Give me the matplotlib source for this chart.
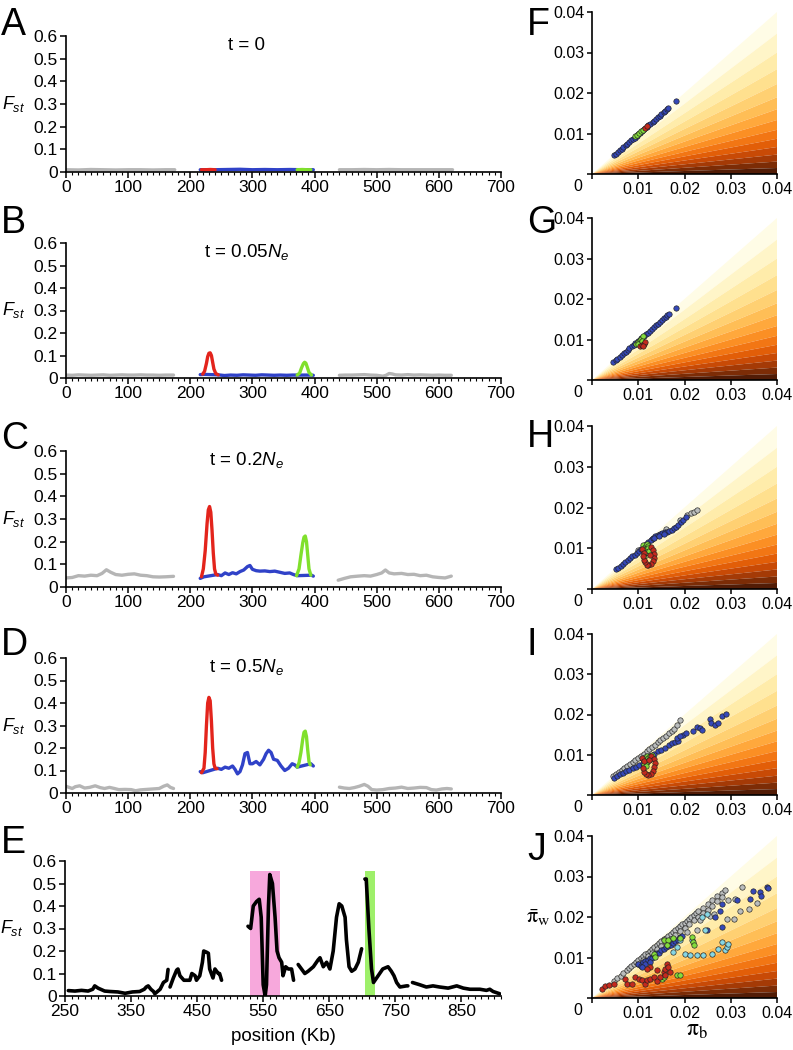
import matplotlib
matplotlib.use('Agg')
import matplotlib.pyplot as plt
import numpy as np

nan = np.nan

plt.rcParams['font.family'] = ['Liberation Sans', 'DejaVu Sans']
plt.rcParams['mathtext.fontset'] = 'custom'
plt.rcParams['mathtext.rm'] = 'Liberation Sans'
plt.rcParams['mathtext.it'] = 'Liberation Sans:italic'
plt.rcParams['axes.linewidth'] = 1.2

# ---------------- Fst traces (position in Kb, Fst) ----------------
# panel A, t = 0
a_gray_pos = [0, 20, 40, 60, 80, 100, 120, 140, 160, 175, nan,
              440, 460, 480, 500, 520, 540, 560, 580, 600, 622]
a_gray_fst = [0.010, 0.009, 0.011, 0.010, 0.009, 0.010, 0.010, 0.009, 0.010, 0.010, nan,
              0.010, 0.010, 0.011, 0.010, 0.011, 0.010, 0.010, 0.010, 0.010, 0.010]
a_blue_pos = [216, 240, 260, 280, 300, 320, 340, 360, 380, 398]
a_blue_fst = [0.010, 0.010, 0.011, 0.012, 0.010, 0.011, 0.010, 0.011, 0.010, 0.010]
a_red_pos = [218, 225, 232, 240]
a_red_fst = [0.010, 0.010, 0.011, 0.010]
a_green_pos = [372, 380, 388, 394]
a_green_fst = [0.010, 0.011, 0.010, 0.010]

# panel B, t = 0.05 Ne
b_gray_pos = [0, 10, 20, 30, 40, 50, 60, 70, 80, 90, 100, 110, 120, 130, 140, 150, 160, 173, nan,
              440, 450, 460, 470, 480, 490, 500, 510, 515, 520, 525, 530, 540, 550, 560, 570,
              580, 590, 600, 610, 620]
b_gray_fst = [0.013, 0.012, 0.014, 0.013, 0.012, 0.013, 0.014, 0.012, 0.013, 0.014, 0.013, 0.013,
              0.014, 0.013, 0.013, 0.012, 0.013, 0.013, nan,
              0.012, 0.013, 0.013, 0.014, 0.015, 0.013, 0.012, 0.008, 0.012, 0.020, 0.018, 0.014,
              0.013, 0.015, 0.013, 0.014, 0.013, 0.012, 0.013, 0.012, 0.012]
b_blue_pos = [216, 222, 245, 255, 265, 275, 285, 295, 305, 315, 325, 335, 345, 355, 365, 372, 395, 398]
b_blue_fst = [0.015, 0.016, 0.014, 0.011, 0.013, 0.012, 0.014, 0.013, 0.012, 0.014, 0.013, 0.012,
              0.013, 0.012, 0.013, 0.013, 0.013, 0.012]
b_red_pos = [220, 223, 226, 228, 230, 232, 234, 236, 238, 241, 245]
b_red_fst = [0.017, 0.030, 0.065, 0.095, 0.110, 0.112, 0.100, 0.070, 0.040, 0.020, 0.014]
b_green_pos = [372, 376, 379, 382, 384, 386, 388, 391, 395]
b_green_fst = [0.013, 0.022, 0.045, 0.064, 0.070, 0.066, 0.050, 0.025, 0.013]

# panel C, t = 0.2 Ne
c_gray_pos = [0, 10, 20, 30, 40, 50, 58, 65, 72, 80, 90, 100, 110, 120, 130, 140, 150, 160, 173, nan,
              438, 448, 458, 470, 480, 490, 500, 508, 514, 520, 528, 540, 550, 560, 570, 580,
              590, 600, 610, 620]
c_gray_fst = [0.040, 0.042, 0.050, 0.048, 0.052, 0.050, 0.060, 0.076, 0.065, 0.055, 0.052, 0.056,
              0.058, 0.052, 0.050, 0.045, 0.044, 0.045, 0.047, nan,
              0.030, 0.038, 0.045, 0.048, 0.050, 0.048, 0.055, 0.062, 0.075, 0.062, 0.058, 0.060,
              0.055, 0.056, 0.050, 0.052, 0.045, 0.042, 0.040, 0.048]
c_blue_pos = [216, 222, 244, 250, 256, 262, 268, 274, 280, 286, 292, 296, 300, 306, 312, 320, 328,
              336, 344, 352, 360, 366, 372, 395, 398]
c_blue_fst = [0.038, 0.045, 0.055, 0.050, 0.062, 0.055, 0.063, 0.058, 0.068, 0.075, 0.090, 0.095,
              0.078, 0.072, 0.070, 0.071, 0.068, 0.070, 0.065, 0.060, 0.062, 0.055, 0.050, 0.052, 0.048]
c_red_pos = [218, 221, 224, 227, 229, 231, 233, 235, 237, 239, 241, 244]
c_red_fst = [0.045, 0.080, 0.160, 0.280, 0.340, 0.355, 0.330, 0.250, 0.150, 0.080, 0.058, 0.052]
c_green_pos = [371, 375, 378, 381, 383, 385, 387, 389, 391, 394]
c_green_fst = [0.050, 0.080, 0.140, 0.195, 0.220, 0.225, 0.200, 0.140, 0.080, 0.052]

# panel D, t = 0.5 Ne
d_gray_pos = [0, 5, 10, 15, 22, 30, 38, 47, 55, 62, 70, 78, 85, 95, 105, 112, 120, 130, 140, 150,
              157, 163, 168, 173, nan,
              440, 448, 456, 464, 472, 480, 486, 492, 500, 510, 520, 530, 540, 550, 560, 570, 580,
              588, 596, 605, 613, 620]
d_gray_fst = [0.030, 0.025, 0.020, 0.028, 0.032, 0.022, 0.025, 0.032, 0.024, 0.020, 0.025, 0.020,
              0.015, 0.016, 0.015, 0.010, 0.014, 0.016, 0.018, 0.020, 0.030, 0.036, 0.025, 0.020, nan,
              0.026, 0.022, 0.020, 0.024, 0.030, 0.038, 0.030, 0.015, 0.013, 0.015, 0.020, 0.022,
              0.026, 0.020, 0.022, 0.025, 0.024, 0.015, 0.013, 0.018, 0.020, 0.018]
d_blue_pos = [216, 220, 244, 250, 256, 262, 268, 272, 276, 280, 284, 288, 292, 296, 300, 306, 312,
              318, 322, 326, 330, 334, 340, 346, 352, 358, 364, 368, 372, 394, 398]
d_blue_fst = [0.095, 0.090, 0.110, 0.105, 0.115, 0.110, 0.120, 0.105, 0.085, 0.095, 0.125, 0.175,
              0.180, 0.130, 0.130, 0.140, 0.125, 0.150, 0.175, 0.190, 0.180, 0.150, 0.145, 0.120,
              0.100, 0.110, 0.130, 0.125, 0.115, 0.130, 0.120]
d_red_pos = [218, 222, 224, 226, 228, 230, 232, 234, 236, 238, 240, 243]
d_red_fst = [0.090, 0.110, 0.180, 0.300, 0.400, 0.425, 0.410, 0.320, 0.200, 0.130, 0.110, 0.108]
d_green_pos = [372, 375, 378, 381, 383, 385, 387, 389, 391, 393]
d_green_fst = [0.115, 0.135, 0.180, 0.240, 0.270, 0.275, 0.250, 0.190, 0.140, 0.125]

# panel E, observed data
e_pos = [255, 265, 275, 285, 292, 295, 300, 310, 318, 330, 341, 352, 363, 370, 373, 376, 380, 384,
         386, 390, 394, 399, 404, 406, nan,
         409, 414, 419, 421, 424, 430, 439, 442, 447, 449, 454, 458, 460, 464, 467, 469, 474, 477,
         482, 484, 487, nan,
         527, 531, 535, 540, 544, 547, 550, 553, 555, 558, 560, 564, 568, 571, 574, 578, 580, 584,
         588, 593, 596, nan,
         603, 608, 613, 618, 626, 633, 636, 641, 646, 651, 656, 661, 665, 669, 674, 676, 680, 684,
         689, 694, 699, nan,
         704, 706, 710, 714, 717, 724, 731, 739, 744, 748, 752, 757, 767, 769, nan,
         776, 787, 797, 807, 817, 830, 843, 853, 863, 878, 888, 893, 898, 908]
e_fst = [0.024, 0.022, 0.025, 0.022, 0.030, 0.045, 0.035, 0.022, 0.020, 0.018, 0.012, 0.018, 0.020,
         0.030, 0.040, 0.045, 0.030, 0.020, 0.010, 0.020, 0.030, 0.060, 0.070, 0.118, nan,
         0.040, 0.080, 0.115, 0.120, 0.090, 0.070, 0.070, 0.100, 0.090, 0.070, 0.090, 0.150, 0.200,
         0.195, 0.190, 0.120, 0.080, 0.120, 0.100, 0.100, 0.070, nan,
         0.310, 0.300, 0.400, 0.420, 0.430, 0.350, 0.050, 0.000, 0.050, 0.400, 0.540, 0.500, 0.350,
         0.200, 0.170, 0.150, 0.090, 0.130, 0.120, 0.120, 0.070, nan,
         0.140, 0.120, 0.100, 0.110, 0.130, 0.160, 0.170, 0.130, 0.150, 0.120, 0.200, 0.350, 0.410,
         0.400, 0.350, 0.250, 0.130, 0.110, 0.120, 0.150, 0.210, nan,
         0.520, 0.520, 0.300, 0.120, 0.060, 0.090, 0.120, 0.130, 0.110, 0.090, 0.060, 0.040, 0.045,
         0.045, nan,
         0.060, 0.050, 0.040, 0.045, 0.040, 0.035, 0.045, 0.035, 0.030, 0.030, 0.025, 0.030, 0.020,
         0.010]
e_pink_span = (530, 575)
e_green_span = (704, 719)
e_span_top = 0.555

# ---------------- pi_b / pi_w scatter (per panel, per class) ----------------
f_blue_pb = [0.0047, 0.0052, 0.0056, 0.0061, 0.0064, 0.0068, 0.0073, 0.0076, 0.0080, 0.0085, 0.0088,
             0.0092, 0.0097, 0.0100, 0.0104, 0.0109, 0.0112, 0.0118, 0.0122, 0.0126, 0.0131, 0.0134,
             0.0138, 0.0143, 0.0146, 0.0150, 0.0155, 0.0158, 0.0162, 0.0165, 0.0182]
f_blue_pw = [0.0046, 0.0050, 0.0054, 0.0059, 0.0062, 0.0066, 0.0071, 0.0074, 0.0078, 0.0083, 0.0086,
             0.0090, 0.0095, 0.0098, 0.0102, 0.0107, 0.0110, 0.0116, 0.0120, 0.0124, 0.0129, 0.0132,
             0.0136, 0.0141, 0.0144, 0.0148, 0.0153, 0.0156, 0.0160, 0.0163, 0.0181]
f_green_pb = [0.0094, 0.0098, 0.0102, 0.0106, 0.0110]
f_green_pw = [0.0093, 0.0097, 0.0101, 0.0105, 0.0108]
f_red_pb = [0.0115, 0.0119]
f_red_pw = [0.0114, 0.0118]

g_blue_pb = [0.0046, 0.0051, 0.0055, 0.0060, 0.0065, 0.0069, 0.0073, 0.0077, 0.0081, 0.0086, 0.0090,
             0.0094, 0.0099, 0.0103, 0.0107, 0.0112, 0.0116, 0.0120, 0.0125, 0.0129, 0.0133, 0.0138,
             0.0142, 0.0146, 0.0151, 0.0155, 0.0159, 0.0163, 0.0166, 0.0182]
g_blue_pw = [0.0045, 0.0049, 0.0053, 0.0058, 0.0062, 0.0066, 0.0070, 0.0074, 0.0078, 0.0083, 0.0087,
             0.0091, 0.0096, 0.0100, 0.0104, 0.0109, 0.0113, 0.0117, 0.0122, 0.0126, 0.0130, 0.0135,
             0.0139, 0.0143, 0.0148, 0.0152, 0.0156, 0.0160, 0.0163, 0.0178]
g_green_pb = [0.0095, 0.0099, 0.0103, 0.0106, 0.0110, 0.0100, 0.0108]
g_green_pw = [0.0090, 0.0093, 0.0098, 0.0102, 0.0108, 0.0088, 0.0096]
g_red_pb = [0.0104, 0.0108, 0.0112, 0.0115, 0.0110]
g_red_pw = [0.0084, 0.0087, 0.0090, 0.0094, 0.0083]

h_gray_pb = [0.0100, 0.0130, 0.0160, 0.0190, 0.0205, 0.0213, 0.0220, 0.0228]
h_gray_pw = [0.0096, 0.0123, 0.0148, 0.0170, 0.0181, 0.0186, 0.0190, 0.0195]
h_blue_pb = [0.0052, 0.0057, 0.0062, 0.0067, 0.0072, 0.0077, 0.0082, 0.0087, 0.0092, 0.0097, 0.0102,
             0.0107, 0.0112, 0.0117, 0.0122, 0.0127, 0.0132, 0.0137, 0.0142, 0.0147, 0.0152, 0.0157,
             0.0162, 0.0167, 0.0172, 0.0177, 0.0182, 0.0187, 0.0192, 0.0197, 0.0203, 0.0135, 0.0145,
             0.0155]
h_blue_pw = [0.0048, 0.0052, 0.0057, 0.0061, 0.0066, 0.0070, 0.0075, 0.0080, 0.0084, 0.0089, 0.0094,
             0.0099, 0.0105, 0.0111, 0.0116, 0.0121, 0.0126, 0.0130, 0.0133, 0.0135, 0.0137, 0.0139,
             0.0141, 0.0143, 0.0146, 0.0149, 0.0153, 0.0158, 0.0164, 0.0170, 0.0177, 0.0126, 0.0130,
             0.0134]
h_green_pb = [0.0110, 0.0114, 0.0118, 0.0122, 0.0112, 0.0117, 0.0121, 0.0115, 0.0119, 0.0124, 0.0113]
h_green_pw = [0.0108, 0.0104, 0.0110, 0.0106, 0.0098, 0.0096, 0.0100, 0.0088, 0.0090, 0.0094, 0.0078]
h_red_pb = [0.0108, 0.0113, 0.0128, 0.0132, 0.0135, 0.0134, 0.0131, 0.0127, 0.0122, 0.0118, 0.0114,
            0.0112, 0.0110, 0.0126]
h_red_pw = [0.0098, 0.0088, 0.0103, 0.0095, 0.0086, 0.0076, 0.0068, 0.0062, 0.0058, 0.0060, 0.0066,
            0.0072, 0.0080, 0.0083]

i_gray_pb = [0.0046, 0.0052, 0.0058, 0.0064, 0.0070, 0.0076, 0.0082, 0.0088, 0.0094, 0.0100, 0.0106,
             0.0112, 0.0118, 0.0124, 0.0130, 0.0136, 0.0142, 0.0148, 0.0154, 0.0160, 0.0166, 0.0172,
             0.0178, 0.0184, 0.0191]
i_gray_pw = [0.0047, 0.0052, 0.0057, 0.0062, 0.0067, 0.0072, 0.0077, 0.0082, 0.0087, 0.0092, 0.0098,
             0.0103, 0.0109, 0.0114, 0.0120, 0.0125, 0.0131, 0.0136, 0.0142, 0.0147, 0.0153, 0.0159,
             0.0165, 0.0174, 0.0186]
i_blue_pb = [0.0047, 0.0053, 0.0060, 0.0067, 0.0074, 0.0081, 0.0088, 0.0095, 0.0102, 0.0110, 0.0118,
             0.0126, 0.0134, 0.0142, 0.0150, 0.0158, 0.0166, 0.0174, 0.0180, 0.0186, 0.0197, 0.0204,
             0.0219, 0.0226, 0.0233, 0.0237, 0.0255, 0.0258, 0.0266, 0.0273, 0.0282, 0.0290, 0.0183,
             0.0190]
i_blue_pw = [0.0043, 0.0047, 0.0051, 0.0055, 0.0059, 0.0062, 0.0066, 0.0070, 0.0074, 0.0079, 0.0087,
             0.0095, 0.0103, 0.0109, 0.0113, 0.0118, 0.0123, 0.0128, 0.0132, 0.0135, 0.0150, 0.0154,
             0.0158, 0.0170, 0.0166, 0.0162, 0.0188, 0.0179, 0.0174, 0.0179, 0.0197, 0.0202, 0.0141,
             0.0147]
i_green_pb = [0.0110, 0.0114, 0.0118, 0.0122, 0.0126, 0.0130, 0.0113, 0.0118, 0.0124, 0.0116]
i_green_pw = [0.0090, 0.0094, 0.0097, 0.0092, 0.0096, 0.0099, 0.0078, 0.0082, 0.0086, 0.0072]
i_red_pb = [0.0108, 0.0112, 0.0128, 0.0134, 0.0136, 0.0135, 0.0132, 0.0127, 0.0121, 0.0116, 0.0112,
            0.0110, 0.0124]
i_red_pw = [0.0092, 0.0085, 0.0098, 0.0090, 0.0080, 0.0070, 0.0060, 0.0053, 0.0050, 0.0052, 0.0058,
            0.0068, 0.0088]

j_gray_pb = [0.0047, 0.0055, 0.0062, 0.0068, 0.0075, 0.0080, 0.0085, 0.0090, 0.0095, 0.0100, 0.0105,
             0.0110, 0.0115, 0.0120, 0.0125, 0.0130, 0.0135, 0.0140, 0.0145, 0.0150, 0.0155, 0.0160,
             0.0165, 0.0170, 0.0175, 0.0180, 0.0185, 0.0190, 0.0195, 0.0200, 0.0205, 0.0210, 0.0215,
             0.0220, 0.0225, 0.0230, 0.0240, 0.0250, 0.0260, 0.0270, 0.0280, 0.0288,
             0.0100, 0.0110, 0.0120, 0.0130, 0.0140, 0.0150, 0.0160, 0.0170, 0.0180, 0.0190, 0.0200,
             0.0210, 0.0220, 0.0230, 0.0240, 0.0250, 0.0260, 0.0270, 0.0280,
             0.0324, 0.0309, 0.0295, 0.0306, 0.0320, 0.0340, 0.0356, 0.0255, 0.0263, 0.0291, 0.0227,
             0.0234, 0.0205]
j_gray_pw = [0.0042, 0.0049, 0.0055, 0.0062, 0.0068, 0.0074, 0.0079, 0.0083, 0.0089, 0.0094, 0.0098,
             0.0103, 0.0108, 0.0112, 0.0116, 0.0121, 0.0126, 0.0131, 0.0135, 0.0140, 0.0145, 0.0149,
             0.0154, 0.0159, 0.0163, 0.0168, 0.0172, 0.0177, 0.0182, 0.0186, 0.0191, 0.0196, 0.0200,
             0.0205, 0.0210, 0.0214, 0.0222, 0.0232, 0.0241, 0.0251, 0.0260, 0.0267,
             0.0085, 0.0095, 0.0104, 0.0112, 0.0120, 0.0128, 0.0138, 0.0146, 0.0155, 0.0165, 0.0174,
             0.0183, 0.0192, 0.0200, 0.0210, 0.0218, 0.0228, 0.0240, 0.0250,
             0.0274, 0.0245, 0.0241, 0.0196, 0.0216, 0.0220, 0.0235, 0.0202, 0.0208, 0.0196, 0.0167,
             0.0192, 0.0163]
j_blue_pb = [0.0100, 0.0105, 0.0110, 0.0115, 0.0120, 0.0125, 0.0130, 0.0135, 0.0140, 0.0145, 0.0150,
             0.0155, 0.0160, 0.0165, 0.0170, 0.0175, 0.0180, 0.0185, 0.0190, 0.0195, 0.0115, 0.0125,
             0.0108, 0.0248, 0.0266, 0.0277, 0.0280, 0.0313, 0.0342, 0.0349, 0.0363, 0.0365, 0.0378,
             0.0381, 0.0280]
j_blue_pw = [0.0085, 0.0080, 0.0088, 0.0092, 0.0095, 0.0100, 0.0098, 0.0105, 0.0110, 0.0112, 0.0118,
             0.0122, 0.0125, 0.0128, 0.0132, 0.0136, 0.0140, 0.0142, 0.0150, 0.0152, 0.0085, 0.0090,
             0.0076, 0.0167, 0.0200, 0.0216, 0.0233, 0.0241, 0.0245, 0.0264, 0.0262, 0.0253, 0.0274,
             0.0272, 0.0175]
j_cyan_pb = [0.0176, 0.0183, 0.0216, 0.0201, 0.0212, 0.0227, 0.0241, 0.0259, 0.0273, 0.0288, 0.0291,
             0.0295, 0.0281, 0.0245, 0.0237, 0.0248, 0.0191]
j_cyan_pw = [0.0114, 0.0126, 0.0142, 0.0109, 0.0105, 0.0105, 0.0105, 0.0109, 0.0122, 0.0118, 0.0126,
             0.0134, 0.0138, 0.0167, 0.0200, 0.0207, 0.0142]
j_green_pb = [0.0155, 0.0165, 0.0176, 0.0191, 0.0216, 0.0218, 0.0221, 0.0133, 0.0137, 0.0183, 0.0191,
              0.0151, 0.0155, 0.0162]
j_green_pw = [0.0144, 0.0142, 0.0147, 0.0147, 0.0151, 0.0138, 0.0130, 0.0109, 0.0101, 0.0056, 0.0058,
              0.0048, 0.0052, 0.0130]
j_red_pb = [0.0022, 0.0029, 0.0036, 0.0047, 0.0072, 0.0076, 0.0086, 0.0094, 0.0101, 0.0108, 0.0115,
            0.0119, 0.0126, 0.0133, 0.0140, 0.0147, 0.0155, 0.0158, 0.0162, 0.0165, 0.0169, 0.0158,
            0.0140, 0.0126, 0.0119]
j_red_pw = [0.0023, 0.0029, 0.0031, 0.0035, 0.0048, 0.0034, 0.0035, 0.0052, 0.0048, 0.0044, 0.0035,
            0.0045, 0.0048, 0.0052, 0.0042, 0.0052, 0.0064, 0.0072, 0.0085, 0.0077, 0.0064, 0.0058,
            0.0068, 0.0077, 0.0072]

fst_levels = np.linspace(0, 1, 15)

# ---------------- styles ----------------
C_GRAY = '#b5b5b5'
C_BLUE = '#3042c8'
C_RED = '#e3241c'
C_GREEN = '#80e02c'
C_CYAN = '#86d6e4'
PT_BLUE = '#3548b8'
PT_RED = '#c42a1e'
PT_GREEN = '#84dc3c'
PT_GRAY = '#b9bcbc'
band_colors = ['#fffce6', '#fff5c8', '#ffecaa', '#ffe08e', '#ffd072', '#ffbe56', '#ffa83c',
               '#fb8f24', '#f27614', '#e25e08', '#c84a06', '#a43a06', '#7c2c06', '#521c06']

W, H = 793, 1050
fig = plt.figure(figsize=(W / 100, H / 100), dpi=100)


def px_rect(left, top, right, bottom):
    return [left / W, 1 - bottom / H, (right - left) / W, (bottom - top) / H]


def fst_axes(rect, xlim, major):
    ax = fig.add_axes(rect)
    ax.set_xlim(*xlim)
    ax.set_ylim(0, 0.6)
    for s in ['top', 'right']:
        ax.spines[s].set_visible(False)
    ax.set_xticks(major)
    ax.set_xticks(np.arange(xlim[0], xlim[1] + 1, 10), minor=True)
    yt = np.arange(0, 0.61, 0.1)
    ax.set_yticks(yt)
    ax.set_yticklabels(['0'] + ['%.1f' % v for v in yt[1:]])
    ax.tick_params(direction='out', length=4, width=1.1, labelsize=12.5, pad=2)
    ax.tick_params(which='minor', length=2.5, width=0.8)
    ax.text(-0.148, 0.5, r'$F_{st}$', transform=ax.transAxes, fontsize=13,
            ha='left', va='center')
    return ax


def trace(ax, pos, fst, color, lw=2.4):
    ax.plot(pos, fst, color=color, lw=lw, solid_capstyle='round', solid_joinstyle='round')


def pi_axes(rect):
    ax = fig.add_axes(rect)
    ax.set_xlim(0, 0.04)
    ax.set_ylim(0, 0.04)
    for s in ['top', 'right']:
        ax.spines[s].set_visible(False)
    # fan of constant Fst = (pb - pw) / (pb + pw)
    ratios = (1 - fst_levels) / (1 + fst_levels)
    for k in range(len(fst_levels) - 1):
        ax.fill([0, 0.04, 0.04], [0, 0.04 * ratios[k], 0.04 * ratios[k + 1]],
                color=band_colors[k], lw=0, zorder=0)
    t = [0, 0.01, 0.02, 0.03, 0.04]
    ax.set_xticks(t)
    ax.set_yticks(t)
    ax.set_xticklabels([''] + ['%.2f' % v for v in t[1:]])
    ax.set_yticklabels([''] + ['%.2f' % v for v in t[1:]])
    ax.tick_params(direction='out', length=3.5, width=1.1, labelsize=11.5, pad=2)
    ax.annotate('0', xy=(0, 0), xytext=(-10, -9), textcoords='offset points',
                ha='center', va='center', fontsize=11.5)
    return ax


def dots(ax, pb, pw, color):
    ax.scatter(pb, pw, s=15, c=color, edgecolors='#202020', linewidths=0.45, zorder=3)


# ---------------- left column ----------------
left_rows = [(36, 172), (243, 378), (451, 587), (658, 793)]
sim = [
    ('t = 0', a_gray_pos, a_gray_fst, a_blue_pos, a_blue_fst, a_red_pos, a_red_fst,
     a_green_pos, a_green_fst),
    ('t = 0.05$N_e$', b_gray_pos, b_gray_fst, b_blue_pos, b_blue_fst, b_red_pos, b_red_fst,
     b_green_pos, b_green_fst),
    ('t = 0.2$N_e$', c_gray_pos, c_gray_fst, c_blue_pos, c_blue_fst, c_red_pos, c_red_fst,
     c_green_pos, c_green_fst),
    ('t = 0.5$N_e$', d_gray_pos, d_gray_fst, d_blue_pos, d_blue_fst, d_red_pos, d_red_fst,
     d_green_pos, d_green_fst),
]
for (top, bottom), (title, gp, gf, bp, bf, rp, rf, np_, nf) in zip(left_rows, sim):
    ax = fst_axes(px_rect(66, top, 501, bottom), (0, 700), np.arange(0, 701, 100))
    trace(ax, gp, gf, C_GRAY)
    trace(ax, bp, bf, C_BLUE)
    trace(ax, rp, rf, C_RED)
    trace(ax, np_, nf, C_GREEN)
    ax.text(290, 0.56, title, ha='center', va='center', fontsize=13.5)

ax = fst_axes(px_rect(65, 861, 501, 996), (250, 910), np.arange(250, 911, 100))
ax.fill_between(e_pink_span, 0, e_span_top, color='#f7a8dc', lw=0, zorder=0)
ax.fill_between(e_green_span, 0, e_span_top, color='#9ef06a', lw=0, zorder=0)
trace(ax, e_pos, e_fst, 'black', lw=2.6)
ax.set_xlabel('position (Kb)', fontsize=13.5, labelpad=6)

# ---------------- right column ----------------
right_rows = [(12, 174), (218, 380), (426, 589), (634, 795), (836, 998)]
axes_r = [pi_axes(px_rect(592, t, 777, b)) for t, b in right_rows]

dots(axes_r[0], f_blue_pb, f_blue_pw, PT_BLUE)
dots(axes_r[0], f_green_pb, f_green_pw, PT_GREEN)
dots(axes_r[0], f_red_pb, f_red_pw, PT_RED)

dots(axes_r[1], g_blue_pb, g_blue_pw, PT_BLUE)
dots(axes_r[1], g_green_pb, g_green_pw, PT_GREEN)
dots(axes_r[1], g_red_pb, g_red_pw, PT_RED)

dots(axes_r[2], h_gray_pb, h_gray_pw, PT_GRAY)
dots(axes_r[2], h_blue_pb, h_blue_pw, PT_BLUE)
dots(axes_r[2], h_green_pb, h_green_pw, PT_GREEN)
dots(axes_r[2], h_red_pb, h_red_pw, PT_RED)

dots(axes_r[3], i_gray_pb, i_gray_pw, PT_GRAY)
dots(axes_r[3], i_blue_pb, i_blue_pw, PT_BLUE)
dots(axes_r[3], i_green_pb, i_green_pw, PT_GREEN)
dots(axes_r[3], i_red_pb, i_red_pw, PT_RED)

dots(axes_r[4], j_gray_pb, j_gray_pw, PT_GRAY)
dots(axes_r[4], j_blue_pb, j_blue_pw, PT_BLUE)
dots(axes_r[4], j_cyan_pb, j_cyan_pw, C_CYAN)
dots(axes_r[4], j_green_pb, j_green_pw, PT_GREEN)
dots(axes_r[4], j_red_pb, j_red_pw, PT_RED)

fig.text(550 / W, 1 - 917 / H, r'$\bar{\mathrm{\pi}}_\mathrm{w}$', fontsize=16,
         ha='right', va='center', math_fontfamily='stix')
fig.text(697 / W, 1 - 1030 / H, r'$\mathrm{\pi}_\mathrm{b}$', fontsize=17,
         ha='center', va='center', math_fontfamily='stix')

# ---------------- panel letters ----------------
for letter, x, y in [('A', 1, 35), ('B', 1, 233), ('C', 1, 449), ('D', 1, 655), ('E', 1, 853),
                     ('F', 527, 35), ('G', 527, 233), ('H', 527, 447), ('I', 527, 655),
                     ('J', 527, 860)]:
    fig.text(x / W, 1 - y / H, letter, fontsize=27, ha='left', va='baseline')

fig.savefig('out.png', dpi=100)
